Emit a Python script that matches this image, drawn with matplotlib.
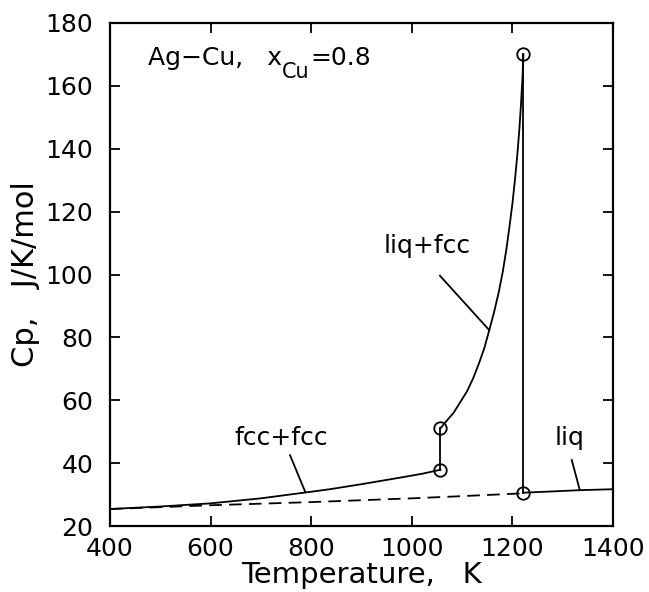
import matplotlib
matplotlib.use("Agg")
import matplotlib.pyplot as plt

# ---- data ----
T_fccfcc = [400, 500, 600, 700, 800, 837, 900, 970, 1020, 1057]
cp_fccfcc = [25.4, 26.2, 27.2, 28.8, 30.9, 31.7, 33.3, 35.2, 36.6, 37.9]

T_liqfcc = [1057, 1070, 1083, 1096, 1110, 1122, 1133, 1144, 1154, 1164, 1173,
            1181, 1188, 1194, 1200, 1205, 1210, 1214, 1217, 1220, 1222]
cp_liqfcc = [51.1, 53.6, 56.0, 59.3, 62.9, 67.0, 71.5, 76.5, 82.3, 88.3, 94.5,
             101.0, 108.0, 115.0, 122.5, 130.0, 138.5, 146.5, 154.0, 162.4, 170.0]

T_liq = [1222, 1280, 1334, 1400]
cp_liq = [30.6, 31.0, 31.4, 31.7]

T_meta = [400, 600, 800, 1000, 1100, 1222]
cp_meta = [25.4, 26.6, 27.6, 28.8, 29.5, 30.4]

T_eut = [1057, 1057]
cp_eut = [37.9, 51.1]
T_liquidus = [1222, 1222]
cp_liquidus = [170.0, 30.6]

labels = ["liq+fcc", "fcc+fcc", "liq"]
label_text_xy = [(1030, 109), (740, 48), (1314, 48)]
label_line_start = [(1056, 99.6), (758, 42.5), (1318, 41.0)]
label_line_end = [(1154, 82.3), (788, 30.9), (1334, 31.4)]

xticks = [400, 600, 800, 1000, 1200, 1400]
yticks = [20, 40, 60, 80, 100, 120, 140, 160, 180]

# ---- figure ----
plt.rcParams['font.family'] = ['DejaVu Sans']
fig = plt.figure(figsize=(6.49, 5.92), dpi=100)
ax = fig.add_axes([110/649, 66/592, 503/649, 503/592])

lw = 1.3
ax.plot(T_fccfcc, cp_fccfcc, color='black', lw=lw)
ax.plot(T_liqfcc, cp_liqfcc, color='black', lw=lw)
ax.plot(T_liq, cp_liq, color='black', lw=lw)
ax.plot(T_meta, cp_meta, color='black', lw=lw, ls=(0, (7, 4)))
ax.plot(T_eut, cp_eut, color='black', lw=lw)
ax.plot(T_liquidus, cp_liquidus, color='black', lw=lw)

circ_T = [T_eut[0], T_eut[1], T_liquidus[0], T_liquidus[1]]
circ_cp = [cp_eut[0], cp_eut[1], cp_liquidus[0], cp_liquidus[1]]
ax.plot(circ_T, circ_cp, ls='none', marker='o', ms=9, mfc='none',
        mec='black', mew=1.3)

for lab, txy, s, e in zip(labels, label_text_xy, label_line_start, label_line_end):
    ax.text(txy[0], txy[1], lab, fontsize=18, ha='center', va='center')
    ax.plot([s[0], e[0]], [s[1], e[1]], color='black', lw=lw)

ax.set_xlim(400, 1400)
ax.set_ylim(20, 180)
ax.set_xticks(xticks)
ax.set_yticks(yticks)
ax.tick_params(direction='in', length=7, width=1.3, top=True, right=True,
               labelsize=18)
ax.tick_params(axis='x', pad=8)
ax.tick_params(axis='y', pad=12)
for sp in ax.spines.values():
    sp.set_linewidth(1.6)

ax.set_xlabel("Temperature,   K", fontsize=21, labelpad=0)
ax.set_ylabel("Cp,   J/K/mol", fontsize=22, labelpad=4)

# composite title text: "Ag−Cu,  x_Cu=0.8" with a large subscript
t1 = ax.text(475, 166.6, "Ag\u2212Cu,   x", fontsize=18, ha='left', va='baseline')
fig.canvas.draw()
r = fig.canvas.get_renderer()
inv = ax.transData.inverted()
base_disp = ax.transData.transform((475, 166.6))
bb1 = t1.get_window_extent(r)
p2 = inv.transform((bb1.x1, base_disp[1] - 13))
t2 = ax.text(p2[0], p2[1], "Cu", fontsize=15, ha='left', va='baseline')
fig.canvas.draw()
bb2 = t2.get_window_extent(r)
p3 = inv.transform((bb2.x1 + 1, base_disp[1]))
ax.text(p3[0], p3[1], "=0.8", fontsize=18, ha='left', va='baseline')

fig.savefig("out.png", dpi=100)
